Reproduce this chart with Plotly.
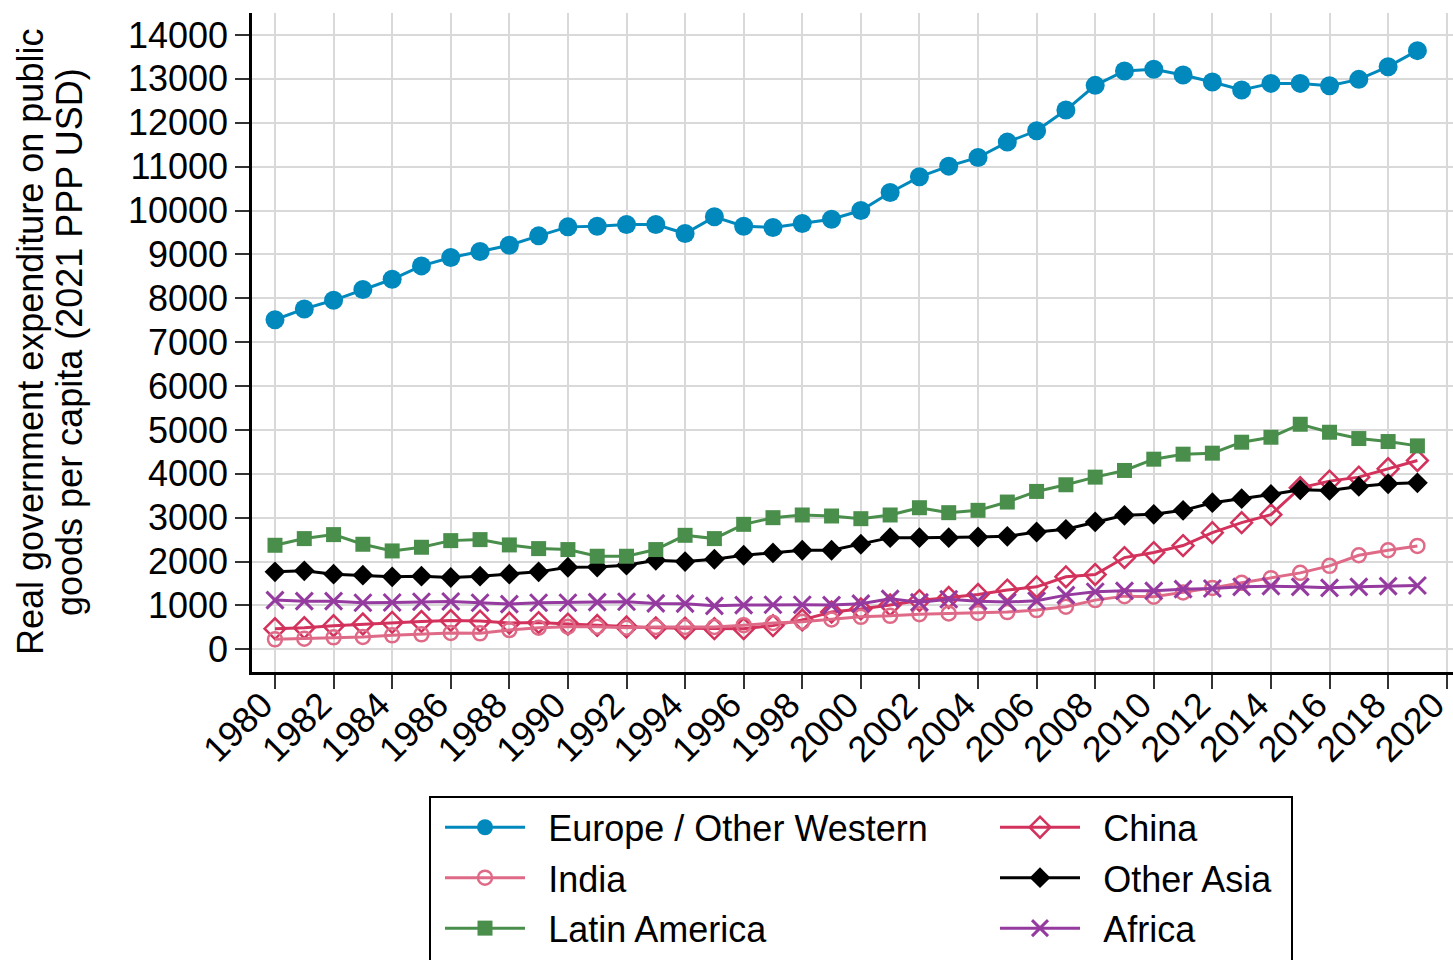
import plotly.graph_objects as go

years = list(range(1980, 2020))

europe = [7510, 7757, 7954, 8198, 8433, 8738, 8928, 9065, 9209, 9422,
          9627, 9643, 9681, 9681, 9475, 9856, 9643, 9612, 9703, 9802,
          10000, 10411, 10768, 11011, 11209, 11559, 11817, 12289, 12852, 13179,
          13217, 13087, 12928, 12745, 12897, 12897, 12844, 12989, 13278, 13643]
china = [470, 492, 538, 576, 614, 636, 659, 644, 600, 610,
         575, 545, 510, 490, 480, 470, 470, 540, 670, 850,
         920, 1010, 1110, 1180, 1250, 1350, 1424, 1652, 1705, 2091,
         2205, 2364, 2659, 2886, 3068, 3682, 3833, 3924, 4114, 4303]
india = [227, 242, 273, 280, 318, 341, 371, 364, 439, 492,
         515, 515, 492, 511, 511, 511, 550, 600, 626, 679,
         740, 763, 801, 817, 830, 848, 894, 970, 1121, 1212,
         1197, 1295, 1400, 1515, 1621, 1742, 1902, 2144, 2258, 2356]
other_asia = [1765, 1788, 1712, 1689, 1652, 1667, 1636, 1667, 1712, 1765,
              1870, 1875, 1917, 2030, 2000, 2053, 2144, 2197, 2258, 2258,
              2394, 2545, 2545, 2545, 2560, 2576, 2674, 2735, 2902, 3053,
              3076, 3167, 3341, 3432, 3530, 3636, 3621, 3712, 3773, 3795]
latin_america = [2371, 2523, 2614, 2394, 2242, 2326, 2477, 2500, 2379, 2295,
                 2273, 2121, 2121, 2273, 2598, 2523, 2848, 3000, 3061, 3038,
                 2977, 3061, 3227, 3114, 3167, 3356, 3598, 3750, 3924, 4076,
                 4333, 4447, 4470, 4720, 4833, 5129, 4947, 4803, 4735, 4636]
africa = [1121, 1098, 1098, 1061, 1068, 1083, 1091, 1061, 1030, 1061,
          1061, 1076, 1083, 1046, 1040, 990, 1008, 1015, 1015, 1008,
          1040, 1150, 1070, 1140, 1098, 1076, 1106, 1235, 1311, 1333,
          1333, 1371, 1386, 1424, 1439, 1424, 1401, 1424, 1439, 1455]

x_ticks = list(range(1980, 2021, 2))
y_ticks = list(range(0, 14001, 1000))
y_title_lines = ["Real government expenditure on public",
                 "goods per capita (2021 PPP USD)"]

# name, values, colour, marker, legend column width
series = [
    ("Europe / Other Western", europe, "#0189BE", dict(symbol="circle", size=19), 460),
    ("China", china, "#D2325C", dict(symbol="diamond-open", size=16, line=dict(width=2.5)), 210),
    ("India", india, "#DF6A88", dict(symbol="circle-open", size=14, line=dict(width=2.5)), 460),
    ("Other Asia", other_asia, "#000000", dict(symbol="diamond", size=16), 210),
    ("Latin America", latin_america, "#4A8E4C", dict(symbol="square", size=15), 460),
    ("Africa", africa, "#953BA0", dict(symbol="x-thin", size=17, line=dict(width=3)), 210),
]

FONT = "Liberation Sans, Arial, sans-serif"
FS = 36
GRID = "#D9D9D9"

W, H = 1453, 960
L, T, R = 252, 13, 0
PW, PH = W - L - R, 659
B = H - T - PH

fig = go.Figure()
for name, vals, color, mk, lw in series:
    marker = dict(color=color, **mk)
    if "line" in marker:
        marker["line"] = dict(color=color, **mk["line"])
    fig.add_trace(go.Scatter(
        x=years, y=vals,
        name="\u2002<span style='font-size:%dpx'>%s</span>" % (FS, name),
        mode="lines+markers", line=dict(color=color, width=3), marker=marker,
        legendwidth=lw))

# page px -> paper coords
def px_x(p):
    return (p - L) / PW

def px_y(p):
    return (T + PH - p) / PH

# last vertical gridline (plotly skips it at the plot edge)
fig.add_shape(type="line", xref="x", yref="paper",
              x0=x_ticks[-1], x1=x_ticks[-1], y0=0, y1=1,
              line=dict(color=GRID, width=1.5), layer="below")

# legend frame
fig.add_shape(type="rect", xref="paper", yref="paper",
              x0=px_x(430), x1=px_x(1292), y0=px_y(797), y1=px_y(990),
              line=dict(color="black", width=2), fillcolor="rgba(0,0,0,0)")

for text, cx in zip(y_title_lines, [30, 69]):
    fig.add_annotation(text=text, xref="paper", yref="paper",
                       x=px_x(cx), y=px_y(342), xanchor="center", yanchor="middle",
                       textangle=-90, showarrow=False,
                       font=dict(size=FS, family=FONT, color="black"))

fig.update_layout(
    width=W, height=H,
    margin=dict(l=L, r=R, t=T, b=B),
    plot_bgcolor="white", paper_bgcolor="white",
    font=dict(family=FONT, size=FS, color="black"),
    xaxis=dict(range=[1979.215, 2020.215], tickmode="array",
               tickvals=x_ticks, ticktext=[str(v) + "\u2002" for v in x_ticks],
               tickangle=-45, ticks="outside", ticklen=14, tickwidth=1.5,
               tickcolor="#333", showgrid=True, gridcolor=GRID, gridwidth=1.5,
               showline=True, linecolor="black", linewidth=2.5, zeroline=False,
               tickfont=dict(size=FS), automargin=False, ticklabelstandoff=-32,
               ticklabeloverflow="allow"),
    yaxis=dict(range=[-517, 14501], tickmode="array",
               tickvals=y_ticks, ticktext=[str(v) for v in y_ticks],
               ticks="outside", ticklen=14, tickwidth=1.5, tickcolor="#333",
               showgrid=True, gridcolor=GRID, gridwidth=1.5,
               showline=True, linecolor="black", linewidth=2.5, zeroline=False,
               tickfont=dict(size=FS), ticklabelstandoff=0, automargin=False),
    legend=dict(orientation="h", xref="container", yref="container",
                x=440 / W, y=1 - 797 / H, xanchor="left", yanchor="top",
                borderwidth=0, bgcolor="rgba(0,0,0,0)",
                font=dict(size=36.5), itemwidth=80,
                traceorder="normal"),
)

fig.write_html("out.html",
               config={"displayModeBar": False},
               post_script="document.body.style.margin='0';"
                           "document.body.style.overflow='hidden';")
